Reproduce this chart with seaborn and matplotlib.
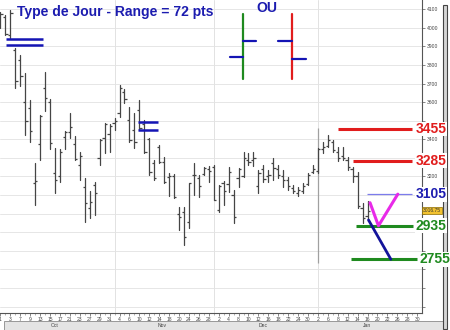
import numpy as np
import pandas as pd
import matplotlib
matplotlib.use('Agg')
import matplotlib.pyplot as plt
import matplotlib.transforms as mtransforms
from matplotlib.patches import Rectangle
from matplotlib.ticker import FixedLocator, FuncFormatter, MultipleLocator
import seaborn as sns

sns.set_theme(style='white')
plt.rcParams['font.family'] = ['Liberation Sans', 'DejaVu Sans']

# ---------------- data (daily OHLC) ----------------
highs = [4084, 4068, 4095, 3890, 3853, 3756, 3611, 3272, 3530, 3762,
         3616, 3353, 3347, 3444, 3541, 3417, 3331, 3192, 3122, 3170,
         3401, 3487, 3482, 3514, 3692, 3670, 3573, 3541, 3611, 3503,
         3407, 3288, 3369, 3304, 3218, 3213, 3036, 3036, 3165, 3272,
         3208, 3251, 3256, 3262, 3154, 3176, 3251, 3127, 3245, 3331,
         3326, 3331, 3235, 3262, 3235, 3299, 3262, 3235, 3197, 3154,
         3143, 3165, 3218, 3262, 3353, 3385, 3423, 3396, 3358, 3360,
         3304, 3250, 3224, 3060, 3070]
lows = [3998, 3960, 3944, 3675, 3686, 3423, 3385, 3046, 3288, 3552,
        3348, 3111, 3170, 3347, 3407, 3288, 3181, 2955, 2977, 2993,
        3261, 3326, 3331, 3450, 3520, 3595, 3385, 3353, 3450, 3326,
        3208, 3181, 3272, 3165, 3095, 3084, 2912, 2831, 2923, 3100,
        3089, 3208, 3170, 3073, 3009, 3046, 3116, 2950, 3143, 3197,
        3262, 3256, 3111, 3170, 3170, 3181, 3192, 3143, 3127, 3111,
        3095, 3110, 3154, 3218, 3218, 3326, 3358, 3330, 3285, 3290,
        3235, 3170, 3030, 2950, 2960]
opens = [4030, 4060, 3960, 3880, 3826, 3600, 3568, 3165, 3374, 3675,
         3600, 3220, 3200, 3412, 3440, 3374, 3260, 3143, 3030, 3154,
         3300, 3407, 3430, 3490, 3541, 3654, 3503, 3450, 3557, 3480,
         3400, 3272, 3358, 3280, 3197, 3200, 2998, 3009, 2955, 3208,
         3190, 3215, 3240, 3250, 3020, 3165, 3160, 3100, 3192, 3205,
         3290, 3290, 3150, 3240, 3200, 3270, 3240, 3200, 3180, 3140,
         3110, 3120, 3160, 3225, 3230, 3350, 3365, 3385, 3330, 3310,
         3290, 3240, 3200, 3030, 2990]
closes = [4075, 3968, 4080, 3711, 3742, 3496, 3443, 3176, 3525, 3624,
          3380, 3180, 3330, 3439, 3466, 3294, 3310, 3057, 3063, 3111,
          3396, 3482, 3470, 3500, 3675, 3616, 3396, 3385, 3460, 3331,
          3224, 3192, 3278, 3170, 3205, 3089, 2982, 2874, 3165, 3210,
          3150, 3245, 3230, 3073, 3149, 3120, 3224, 2982, 3240, 3299,
          3280, 3300, 3220, 3185, 3210, 3245, 3210, 3180, 3150, 3120,
          3130, 3150, 3210, 3240, 3347, 3359, 3396, 3340, 3300, 3300,
          3250, 3200, 3040, 2975, 3016.75]

# trading calendar (Paris): business days minus market holidays
holidays = ['2008-12-25', '2008-12-26', '2009-01-01']
days = pd.bdate_range('2008-10-01', '2009-01-30')
days = days[~days.isin(pd.to_datetime(holidays))]

# target levels drawn on the right
levels = [3455, 3285, 3105, 2935, 2755]
level_texts = ['3455', '3285', '3105', '2935', '2755']
level_line_colors = ['#e11d1d', '#e11d1d', '#7c7cec', '#1f8a1f', '#1f8a1f']
level_text_colors = ['#e11d1d', '#e11d1d', '#1c1cb0', '#1f8a1f', '#1f8a1f']
level_from = [68.0, 71.1, 73.8, 71.6, 70.7]   # trading-day index
level_to = [82.9, 82.9, 82.9, 83.2, 83.9]
level_lw = [2.2, 2.2, 0.9, 2.2, 2.2]
level_text_x = [0.985, 0.985, 0.985, 0.985, 0.993]

# scenario paths
up_k = [74.5, 76.2, 80.1]
up_p = [3059, 2935, 3105]
down_k = [74.2, 78.7]
down_p = [2966, 2755]

# double blue reference marks (k0, k1, upper, lower)
marks = [(1.1, 8.6, 3937, 3907), (27.7, 31.8, 3491, 3450)]

current_price = 3016.75
current_text = '3016.75'
title = 'Type de Jour - Range = 72 pts'

# ---------------- figure ----------------
W, H = 450, 330
fig = plt.figure(figsize=(W / 100, H / 100), dpi=100)
fig.patch.set_facecolor('white')
ax = fig.add_axes([0, 17 / H, 422 / W, 313 / H])
ax.set_facecolor('white')

k = np.arange(len(highs))
seg = pd.DataFrame({
    'k': np.concatenate([k, k]),
    'price': np.concatenate([highs, lows]),
})
sns.lineplot(data=seg, x='k', y='price', units='k', estimator=None,
             color='#454545', lw=0.9, legend=False, ax=ax, zorder=3)
ax.hlines(opens, k - 0.45, k, color='#454545', lw=0.9, zorder=3)
ax.hlines(closes, k, k + 0.45, color='#454545', lw=0.9, zorder=3)

ax.set_xlim(-0.1, 84.98)
ax.set_ylim(2466, 4149)

# grid
yt = np.arange(2500, 4200, 100)
ax.yaxis.set_major_locator(FixedLocator(yt))
for y in yt:
    ax.axhline(y, color='#e6e6e6', lw=0.7, zorder=0)
month_start = [i for i in range(1, len(days)) if days[i].month != days[i - 1].month]
for ms in month_start:
    ax.axvline(ms, color='#e2e2e2', lw=0.7, zorder=0)
ax.vlines(month_start[-1], 2735, 3460, color='#a0a0a0', lw=0.9, zorder=2)

# levels
blend = mtransforms.blended_transform_factory(ax.transAxes, ax.transData)
for lv, txt, lc, tc, a, b, lw, tx in zip(levels, level_texts, level_line_colors,
                                         level_text_colors, level_from, level_to,
                                         level_lw, level_text_x):
    ax.plot([a, b], [lv, lv], color=lc, lw=lw, solid_capstyle='butt', zorder=5)
    ax.text(tx, lv, txt, transform=blend, color=tc, fontsize=10, fontweight='bold',
            ha='left', va='center', clip_on=False, zorder=10,
            bbox=dict(fc='white', ec='none', pad=0.3))

ax.plot(up_k, up_p, color='#e82ae8', lw=2.2, zorder=6, solid_capstyle='round')
ax.plot(down_k, down_p, color='#13139a', lw=2.0, zorder=6, solid_capstyle='round')

for a, b, p1, p2 in marks:
    ax.plot([a, b], [p1, p1], color='#1414b4', lw=1.8, zorder=6, solid_capstyle='butt')
    ax.plot([a, b], [p2, p2], color='#1414b4', lw=1.8, zorder=6, solid_capstyle='butt')

# current price box
ax.text(1.003, current_price, current_text, transform=blend, fontsize=3.6,
        ha='left', va='center', color='#333', clip_on=False, zorder=11,
        bbox=dict(fc='#f2c230', ec='#8a6a00', lw=0.5, pad=0.6))

# icons "OU"
ta = ax.transAxes
icon_lw = 1.6
ax.plot([0.576, 0.576], [0.748, 0.955], color='#1f8a1f', lw=icon_lw, transform=ta)
ax.plot([0.576, 0.607], [0.870, 0.870], color='#1414b4', lw=icon_lw, transform=ta)
ax.plot([0.545, 0.576], [0.818, 0.818], color='#1414b4', lw=icon_lw, transform=ta)
ax.plot([0.692, 0.692], [0.748, 0.955], color='#e11d1d', lw=icon_lw, transform=ta)
ax.plot([0.659, 0.692], [0.870, 0.870], color='#1414b4', lw=icon_lw, transform=ta)
ax.plot([0.692, 0.725], [0.8125, 0.8125], color='#1414b4', lw=icon_lw, transform=ta)
fig.text(267 / W, 1 - 8.5 / H, 'OU', color='#1c1cb0', fontsize=10, fontweight='bold',
         ha='center', va='center')
fig.text(17 / W, 1 - 15.7 / H, title, color='#1c1cb0', fontsize=10,
         fontweight='bold', ha='left', va='baseline')

# axes styling
for s in ['top', 'left']:
    ax.spines[s].set_visible(False)
for s in ['right', 'bottom']:
    ax.spines[s].set_visible(True)
    ax.spines[s].set_color('#555555')
    ax.spines[s].set_linewidth(0.8)
ax.yaxis.tick_right()
shown = {4100, 4000, 3900, 3800, 3700, 3600, 3400, 3200}
ax.yaxis.set_major_formatter(FuncFormatter(lambda v, p: str(int(v)) if int(round(v)) in shown else ''))
ax.tick_params(axis='y', which='major', right=True, left=False, direction='out',
               length=2.5, width=0.5, color='#555', labelsize=3.6, labelcolor='#444', pad=0.8)
ax.set_xticks(np.arange(0, len(days), 2))
ax.set_xticklabels([str(days[i].day) for i in range(0, len(days), 2)])
ax.xaxis.set_minor_locator(MultipleLocator(1))
ax.tick_params(axis='x', which='major', bottom=True, direction='out', length=2,
               width=0.5, color='#555', labelsize=3.6, labelcolor='#444', pad=0.6)
ax.tick_params(axis='x', which='minor', bottom=True, direction='out', length=1.2,
               width=0.4, color='#777')
ax.set_xlabel('')
ax.set_ylabel('')

# month labels
xb = mtransforms.blended_transform_factory(ax.transData, ax.transAxes)
bounds = [0] + month_start + [len(days)]
for a, b in zip(bounds[:-1], bounds[1:]):
    ax.text((a + b - 1) / 2, -0.0415, days[a].strftime('%b'), transform=xb,
            ha='center', va='center', fontsize=3.6, color='#444', clip_on=False)

# decorative chrome: bottom band and right scroll bar
fig.patches.append(Rectangle((4 / W, 0.5 / H), 440 / W, 8.5 / H, transform=fig.transFigure,
                             fc='#e4e4e4', ec='#8a8a8a', lw=0.6, zorder=-1))
fig.patches.append(Rectangle((442.5 / W, 1 / H), 4.5 / W, 324 / H, transform=fig.transFigure,
                             fc='#d6d6d6', ec='#444444', lw=0.8, zorder=-1))

fig.savefig('out.png', dpi=100)
